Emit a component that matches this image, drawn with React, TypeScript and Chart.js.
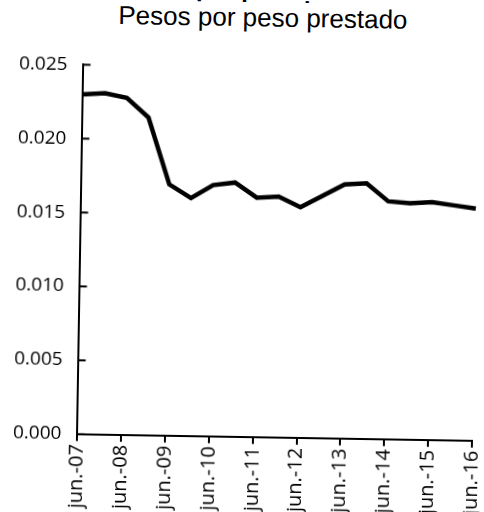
import React, { useEffect, useRef } from "react";
import { Chart, registerables } from "chart.js";

Chart.register(...registerables);

const titleBold = "Costo por peso prestado";
const subtitle = "Pesos por peso prestado";

const periods = [
  "jun.-07", "dic.-07", "jun.-08", "dic.-08", "jun.-09", "dic.-09",
  "jun.-10", "dic.-10", "jun.-11", "dic.-11", "jun.-12", "dic.-12",
  "jun.-13", "dic.-13", "jun.-14", "dic.-14", "jun.-15", "dic.-15", "jun.-16",
];

const costPerPeso = [
  0.0230, 0.0231, 0.0228, 0.0215, 0.0170, 0.0161,
  0.0170, 0.0172, 0.0162, 0.0163, 0.0156, 0.0164,
  0.0172, 0.0173, 0.0161, 0.0160, 0.0161, 0.0159, 0.0157,
];

const yMin = 0;
const yMax = 0.025;
const yStep = 0.005;

const innerTicks = {
  id: "innerTicks",
  afterDatasetsDraw(chart: any) {
    const y = chart.scales.y;
    const ctx = chart.ctx;
    const left = chart.chartArea.left;
    ctx.save();
    ctx.strokeStyle = "#000";
    ctx.lineWidth = 2;
    y.ticks.forEach((t: any) => {
      const py = y.getPixelForValue(t.value);
      ctx.beginPath();
      ctx.moveTo(left, py);
      ctx.lineTo(left + 7, py);
      ctx.stroke();
    });
    ctx.restore();
  },
};

export default function App() {
  const canvasRef = useRef<HTMLCanvasElement | null>(null);

  useEffect(() => {
    if (!canvasRef.current) return;
    const chart = new Chart(canvasRef.current, {
      type: "line",
      data: {
        labels: periods,
        datasets: [
          {
            data: costPerPeso,
            borderColor: "#000",
            borderWidth: 4.5,
            pointRadius: 0,
            tension: 0,
            fill: false,
          },
        ],
      },
      options: {
        animation: false,
        responsive: true,
        maintainAspectRatio: false,
        layout: { padding: { top: 27, left: 0, right: 0, bottom: 12 } },
        plugins: {
          legend: { display: false },
          tooltip: { enabled: false },
          title: { display: false },
        },
        scales: {
          x: {
            type: "category",
            offset: false,
            afterFit: (scale: any) => {
              scale.paddingLeft = 10;
              scale.paddingRight = 9;
            },
            border: { display: true, color: "#000", width: 2 },
            grid: {
              display: true,
              drawOnChartArea: false,
              drawTicks: true,
              tickLength: 7,
              color: "#000",
              lineWidth: 2,
            },
            ticks: {
              autoSkip: false,
              maxRotation: 90,
              minRotation: 90,
              padding: 3,
              color: "#000",
              font: { family: "'Open Sans', sans-serif", size: 20 },
              callback: (_v: any, i: number) => (i % 2 === 0 ? periods[i] : null),
            },
          },
          y: {
            min: yMin,
            max: yMax,
            border: { display: true, color: "#000", width: 2 },
            grid: { display: true, drawOnChartArea: false, drawTicks: false },
            ticks: {
              stepSize: yStep,
              padding: 16,
              color: "#000",
              font: { family: "'Open Sans', sans-serif", size: 19 },
              callback: (v: any) => Number(v).toFixed(3),
            },
          },
        },
      },
      plugins: [innerTicks],
    });
    return () => chart.destroy();
  }, []);

  return (
    <div
      style={{
        position: "absolute",
        left: 0,
        top: 0,
        width: 484,
        height: 512,
        overflow: "hidden",
        background: "#fff",
        transform: "rotate(0.95deg)",
        transformOrigin: "242px 256px",
      }}
    >
      <div
        style={{
          position: "absolute",
          left: 0,
          top: -26,
          width: 518,
          textAlign: "center",
          font: "bold 24px 'Liberation Sans', Arial, sans-serif",
          lineHeight: "30px",
          color: "#000",
          whiteSpace: "nowrap",
        }}
      >
        {titleBold}
      </div>
      <div
        style={{
          position: "absolute",
          left: 0,
          top: 2,
          width: 518,
          textAlign: "center",
          font: "26px 'Liberation Sans', Arial, sans-serif",
          lineHeight: "30px",
          color: "#000",
          whiteSpace: "nowrap",
        }}
      >
        {subtitle}
      </div>
      <div style={{ position: "absolute", left: 0, top: 40, width: 484, height: 486 }}>
        <canvas ref={canvasRef} />
      </div>
    </div>
  );
}
